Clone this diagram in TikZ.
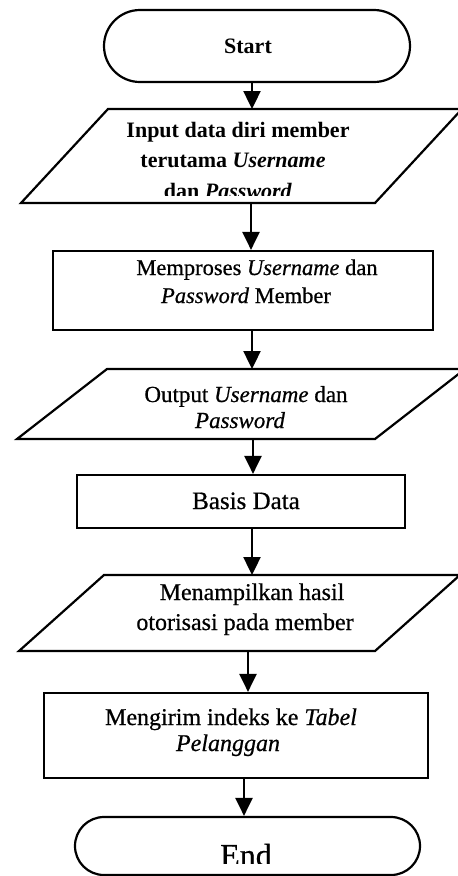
\documentclass[tikz,border=0pt]{standalone}
\usepackage{fontspec}
\setmainfont{Liberation Serif}[UprightFeatures={FakeBold=0.6},ItalicFeatures={FakeBold=0.6}]
\usetikzlibrary{arrows.meta,calc}
\newcommand{\drawpara}[2]{%
  \draw[shp] ($(#1.south west)+(-#2,0)$) -- ($(#1.south east)+(-#2,0)$)
    -- ($(#1.north east)+(#2,0)$) -- ($(#1.north west)+(#2,0)$) -- cycle;}
\begin{document}
\begin{tikzpicture}[x=1pt,y=-1pt,
  shp/.style={draw=black,line width=2.2pt},
  ghost/.style={inner sep=0pt,outer sep=0pt},
  arr/.style={draw=black,line width=2.4pt,-{Triangle[length=18pt,width=17pt]}},
  lbl/.style={anchor=base,inner sep=0pt,outer sep=0pt},
  fb/.style={font=\bfseries\fontsize{22}{26}\selectfont},
  fm/.style={font=\fontsize{22.5}{26}\selectfont},
  fo/.style={font=\fontsize{23}{26}\selectfont},
  fl/.style={font=\fontsize{24}{26}\selectfont},
  fxl/.style={font=\fontsize{25}{28}\selectfont},
  fend/.style={font=\fontsize{32}{34}\selectfont}]
\useasboundingbox (0,0) rectangle (458,876);
\fill[white] (0,0) rectangle (458,876);

% Start
\node[shp,rounded corners=36pt,minimum width=306pt,minimum height=72pt,inner sep=0pt] (start) at (257,46) {};
\node[lbl,fb] (tstart) at (248,53) {Start};

% Input parallelogram
\node[ghost,minimum width=354pt,minimum height=94pt] (p1) at (241.5,156) {};
\drawpara{p1}{43.5}
\node[lbl,fb] (t1a) at (238,137) {Input data diri member};
\node[lbl,fb] (t1b) at (233,167) {terutama \textit{Username}};
\begin{scope}
  \clip (0,0) rectangle (458,195);
  \node[lbl,fb] (t1c) at (228,198) {dan \textit{Password}};
\end{scope}

% Memproses
\node[shp,minimum width=380pt,minimum height=79pt,inner sep=0pt] (r2) at (243,290.5) {};
\node[lbl,fm] (t2a) at (257,275) {Memproses \textit{Username} dan};
\node[lbl,fm] (t2b) at (246,303) {\textit{Password} Member};

% Output parallelogram
\node[ghost,minimum width=358pt,minimum height=70pt] (p2) at (241,404) {};
\drawpara{p2}{45}
\node[lbl,fo] (t3a) at (246,402) {Output \textit{Username} dan};
\node[lbl,fo] (t3b) at (240,428) {\textit{Password}};

% Basis Data
\node[shp,minimum width=328pt,minimum height=53pt,inner sep=0pt] (r3) at (241,501.5) {};
\node[lbl,fxl] (t4) at (246,509) {Basis Data};

% Menampilkan parallelogram
\node[ghost,minimum width=356pt,minimum height=76pt] (p3) at (239.5,613) {};
\drawpara{p3}{42.5}
\node[lbl,fl] (t5a) at (252,600) {Menampilkan hasil};
\node[lbl,fl] (t5b) at (245,630) {otorisasi pada member};

% Mengirim
\node[shp,minimum width=384pt,minimum height=85pt,inner sep=0pt] (r4) at (236,735.5) {};
\node[lbl,fl] (t6a) at (231,725) {Mengirim indeks ke \textit{Tabel}};
\node[lbl,fl] (t6b) at (228,751) {\textit{Pelanggan}};

% End
\node[shp,rounded corners=29pt,minimum width=345pt,minimum height=58pt,inner sep=0pt] (end) at (247.5,846) {};
\begin{scope}
  \clip (0,0) rectangle (458,863);
  \node[lbl,fend] (tend) at (246,866) {End};
\end{scope}

% arrows
\coordinate (ax1) at (252,0);
\coordinate (ax2) at (251,0);
\coordinate (ax3) at (252,0);
\coordinate (ax4) at (253,0);
\coordinate (ax5) at (252,0);
\coordinate (ax6) at (248,0);
\coordinate (ax7) at (244,0);
\draw[arr] (start.south -| ax1) -- (p1.north -| ax1);
\draw[arr] (p1.south -| ax2) -- (r2.north -| ax2);
\draw[arr] (r2.south -| ax3) -- (p2.north -| ax3);
\draw[arr] (p2.south -| ax4) -- (r3.north -| ax4);
\draw[arr] (r3.south -| ax5) -- (p3.north -| ax5);
\draw[arr] (p3.south -| ax6) -- (r4.north -| ax6);
\draw[arr] (r4.south -| ax7) -- (end.north -| ax7);
\end{tikzpicture}
\end{document}
